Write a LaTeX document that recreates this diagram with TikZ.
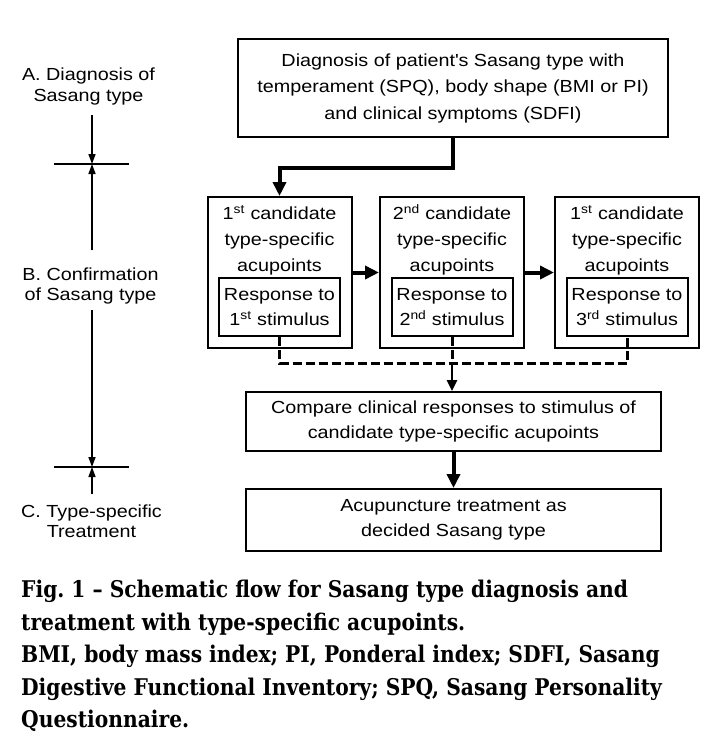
\documentclass[tikz,border=0pt]{standalone}
\usepackage{fontspec}
\setmainfont[FakeStretch=1.13]{Liberation Sans}
\newfontfamily\capfont[FakeStretch=0.88]{DejaVu Serif}
\usetikzlibrary{arrows.meta}
\begin{document}
\begin{tikzpicture}[x=1pt,y=-1pt,
  box/.style={draw, line width=2pt, inner sep=0pt, align=center},
  candbox/.style={draw, line width=2pt, inner sep=0pt, minimum width=144pt, minimum height=151pt},
  ctext/.style={inner sep=0pt, align=center, font=\fontsize{17.5}{26}\selectfont},
  respbox/.style={draw, line width=2pt, inner sep=0pt, align=center, minimum width=121pt, minimum height=58pt, font=\fontsize{17.5}{25}\selectfont},
  lbl/.style={inner sep=0pt, align=center},
  fat/.style={line width=4pt, -{Triangle[length=14pt,width=13pt]}},
  midarr/.style={line width=2.5pt, -{Triangle[length=11pt,width=10pt]}},
  dashline/.style={line width=3pt, dash pattern=on 9pt off 4pt},
  larr/.style={line width=1.5pt, -{Triangle[length=10pt,width=7pt]}},
  bar/.style={line width=2.5pt}
]
\useasboundingbox[fill=white] (0,0) rectangle (721,755);

% top box
\node[box, minimum width=430pt, minimum height=98pt, font=\fontsize{17.5}{26.5}\selectfont] (top) at (453,88)
  {Diagnosis of patient\textquotesingle s Sasang type with\\temperament (SPQ), body shape (BMI or PI)\\and clinical symptoms (SDFI)};

% candidate boxes
\node[candbox] (c1) at (279.5,272.5) {};
\node[candbox] (c2) at (452,272.5) {};
\node[candbox] (c3) at (627,272.5) {};

\node[ctext] (c1t) at (279.5,240) {1\textsuperscript{st} candidate\\type-specific\\acupoints};
\node[ctext] (c2t) at (452,240) {2\textsuperscript{nd} candidate\\type-specific\\acupoints};
\node[ctext] (c3t) at (627,240) {1\textsuperscript{st} candidate\\type-specific\\acupoints};

\node[respbox] (r1) at (279.5,307) {Response to\\1\textsuperscript{st} stimulus};
\node[respbox] (r2) at (452,307) {Response to\\2\textsuperscript{nd} stimulus};
\node[respbox] (r3) at (627,307) {Response to\\3\textsuperscript{rd} stimulus};

% compare and treatment
\node[box, minimum width=415pt, minimum height=59pt, font=\fontsize{17.5}{25}\selectfont] (cmp) at (453.5,421.5)
  {Compare clinical responses to stimulus of\\candidate type-specific acupoints};
\node[box, minimum width=415pt, minimum height=62pt, font=\fontsize{17.5}{25}\selectfont] (trt) at (453.5,520)
  {Acupuncture treatment as\\decided Sasang type};

% connectors
\draw[fat] (top.south) -- ++(0,30) -| (c1.north);
\draw[fat] (c1.east) -- (c2.west);
\draw[fat] (c2.east) -- (c3.west);
\coordinate (dj) at (452,363);
\draw[dashline] (r1.south) |- (dj) -| (r3.south);
\draw[dashline] (r2.south) -- (dj);
\draw[midarr] (dj) -- (dj |- cmp.north);
\draw[fat] (cmp.south) -- (trt.north);

% left column
\node[lbl, font=\fontsize{17.5}{21}\selectfont] (la) at (88.5,86.5) {A. Diagnosis of\\Sasang type};
\node[lbl, font=\fontsize{17.5}{20}\selectfont] (lb) at (90.5,285.75) {B. Confirmation\\of Sasang type};
\node[lbl, font=\fontsize{17.5}{20}\selectfont] (lc) at (91.5,521) {C. Type-specific\\Treatment};
\coordinate (x1) at (92,164);
\coordinate (x2) at (92,467);
\draw[bar] ([xshift=-38pt]x1) -- ([xshift=37pt]x1);
\draw[bar] ([xshift=-38pt]x2) -- ([xshift=37pt]x2);
\draw[larr, shorten <=10pt] (la.south -| x1) -- (x1);
\draw[larr, shorten <=17pt] (lb.north -| x1) -- (x1);
\draw[larr, shorten <=6pt] (lb.south -| x2) -- (x2);
\draw[larr, shorten <=10pt] (lc.north -| x2) -- (x2);

% caption
\node[anchor=north west, inner sep=0pt, align=left, font=\capfont\bfseries\fontsize{23}{32.5}\selectfont] (cap) at (21,580)
  {Fig.\ 1 – Schematic flow for Sasang type diagnosis and\\treatment with type-specific acupoints.\\BMI, body mass index; PI, Ponderal index; SDFI, Sasang\\Digestive Functional Inventory; SPQ, Sasang Personality\\Questionnaire.};
\end{tikzpicture}
\end{document}
